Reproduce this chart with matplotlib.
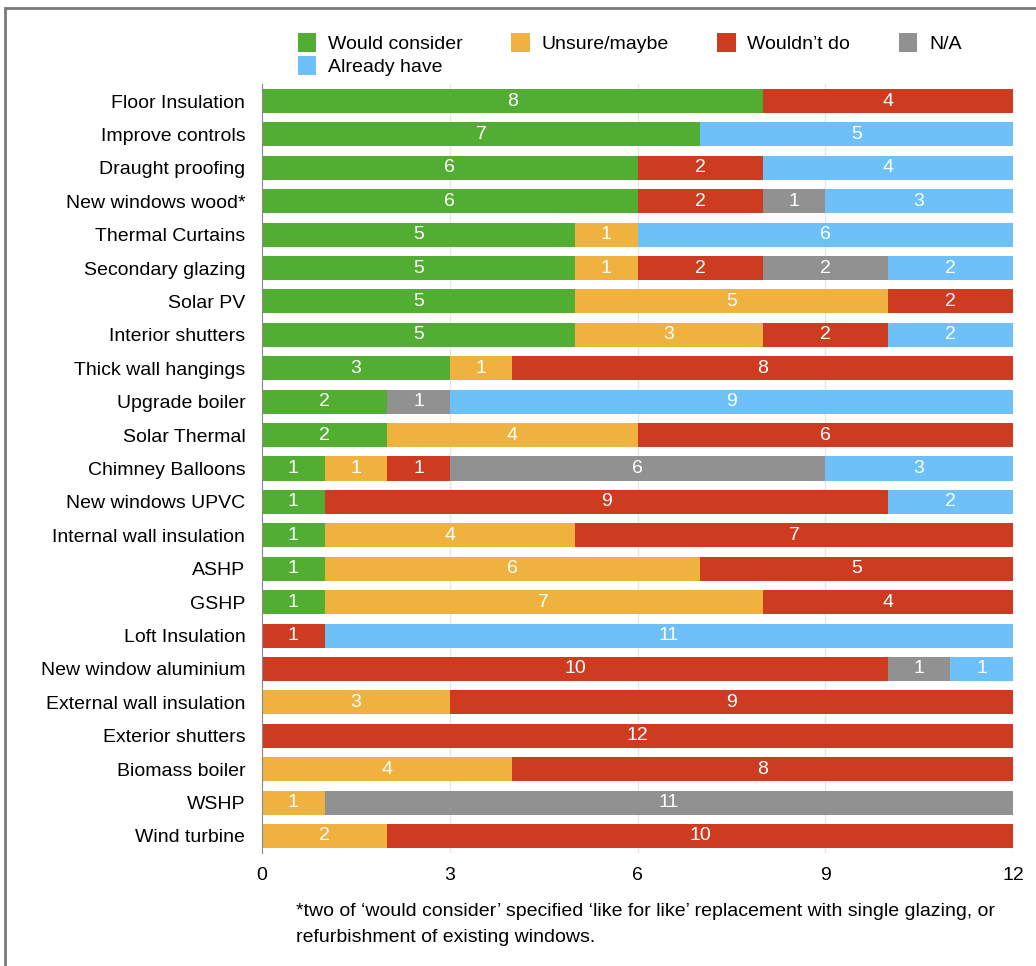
import numpy as np
import matplotlib.pyplot as plt
from matplotlib.patches import Rectangle, Patch

plt.rcParams['font.family'] = ['Liberation Sans', 'DejaVu Sans']

measures = [
    "Floor Insulation", "Improve controls", "Draught proofing", "New windows wood*",
    "Thermal Curtains", "Secondary glazing", "Solar PV", "Interior shutters",
    "Thick wall hangings", "Upgrade boiler", "Solar Thermal", "Chimney Balloons",
    "New windows UPVC", "Internal wall insulation", "ASHP", "GSHP",
    "Loft Insulation", "New window aluminium", "External wall insulation",
    "Exterior shutters", "Biomass boiler", "WSHP", "Wind turbine",
]

would_consider = [8, 7, 6, 6, 5, 5, 5, 5, 3, 2, 2, 1, 1, 1, 1, 1, 0, 0, 0, 0, 0, 0, 0]
unsure_maybe   = [0, 0, 0, 0, 1, 1, 5, 3, 1, 0, 4, 1, 0, 4, 6, 7, 0, 0, 3, 0, 4, 1, 2]
wouldnt_do     = [4, 0, 2, 2, 0, 2, 2, 2, 8, 0, 6, 1, 9, 7, 5, 4, 1, 10, 9, 12, 8, 0, 10]
not_applicable = [0, 0, 0, 1, 0, 2, 0, 0, 0, 1, 0, 6, 0, 0, 0, 0, 0, 1, 0, 0, 0, 11, 0]
already_have   = [0, 5, 4, 3, 6, 2, 0, 2, 0, 9, 0, 3, 2, 0, 0, 0, 11, 1, 0, 0, 0, 0, 0]

series = [
    ("Would consider", would_consider, "#52ae33"),
    ("Unsure/maybe", unsure_maybe, "#f0b23f"),
    ("Wouldn\u2019t do", wouldnt_do, "#cd3b21"),
    ("N/A", not_applicable, "#919191"),
    ("Already have", already_have, "#6dc0f8"),
]

fig = plt.figure(figsize=(10.36, 9.66), dpi=100)
ax = fig.add_axes([262 / 1036, 1 - 852.7 / 966, 751 / 1036, 768.4 / 966])

y = np.arange(len(measures))
left = np.zeros(len(measures))
for name, vals, color in series:
    vals = np.array(vals, dtype=float)
    ax.barh(y, vals, left=left, height=0.72, color=color, label=name, zorder=2)
    for yi, (l, v) in enumerate(zip(left, vals)):
        if v > 0:
            ax.text(l + v / 2, yi, f"{int(v)}", ha="center", va="center",
                    color="white", fontsize=14, zorder=3)
    left += vals

ax.set_xlim(0, 12)
ax.set_ylim(len(measures) - 0.5, -0.5)
ax.set_xticks([0, 3, 6, 9, 12])
ax.set_yticks(y)
ax.set_yticklabels(measures, fontsize=14)
ax.tick_params(axis="x", labelsize=14, length=0, pad=10)
ax.tick_params(axis="y", length=0, pad=12)
ax.grid(axis="x", color="#e6e6e6", lw=1, zorder=0)
for side in ["top", "right", "bottom"]:
    ax.spines[side].set_visible(False)
ax.spines["left"].set_color("#8a8a8a")
ax.spines["left"].set_zorder(4)

# legend: first column holds two entries so the rows read left to right
h = {name: Patch(facecolor=color) for name, _, color in series}
order = ["Would consider", "Already have", "Unsure/maybe", "Wouldn\u2019t do", "N/A"]
fig.legend([h[k] for k in order], order, ncol=4, loc="upper left",
           bbox_to_anchor=(288 / 1036, 1 - 23 / 966), frameon=False, fontsize=14,
           handlelength=0.95, handleheight=1.15, handletextpad=0.6,
           columnspacing=2.5, labelspacing=0.15, borderpad=0)

fig.text(296 / 1036, 1 - 912 / 966,
         "*two of \u2018would consider\u2019 specified \u2018like for like\u2019 replacement with single glazing, or",
         fontsize=14, va="center")
fig.text(296 / 1036, 1 - 938 / 966, "refurbishment of existing windows.",
         fontsize=14, va="center")

# outer frame
fig.patches.append(Rectangle((5 / 1036, -0.1), 1.2, 1.1 - 8 / 966,
                             transform=fig.transFigure, fill=False,
                             edgecolor="#7a7a7a", lw=2))

fig.savefig("out.png", dpi=100)
